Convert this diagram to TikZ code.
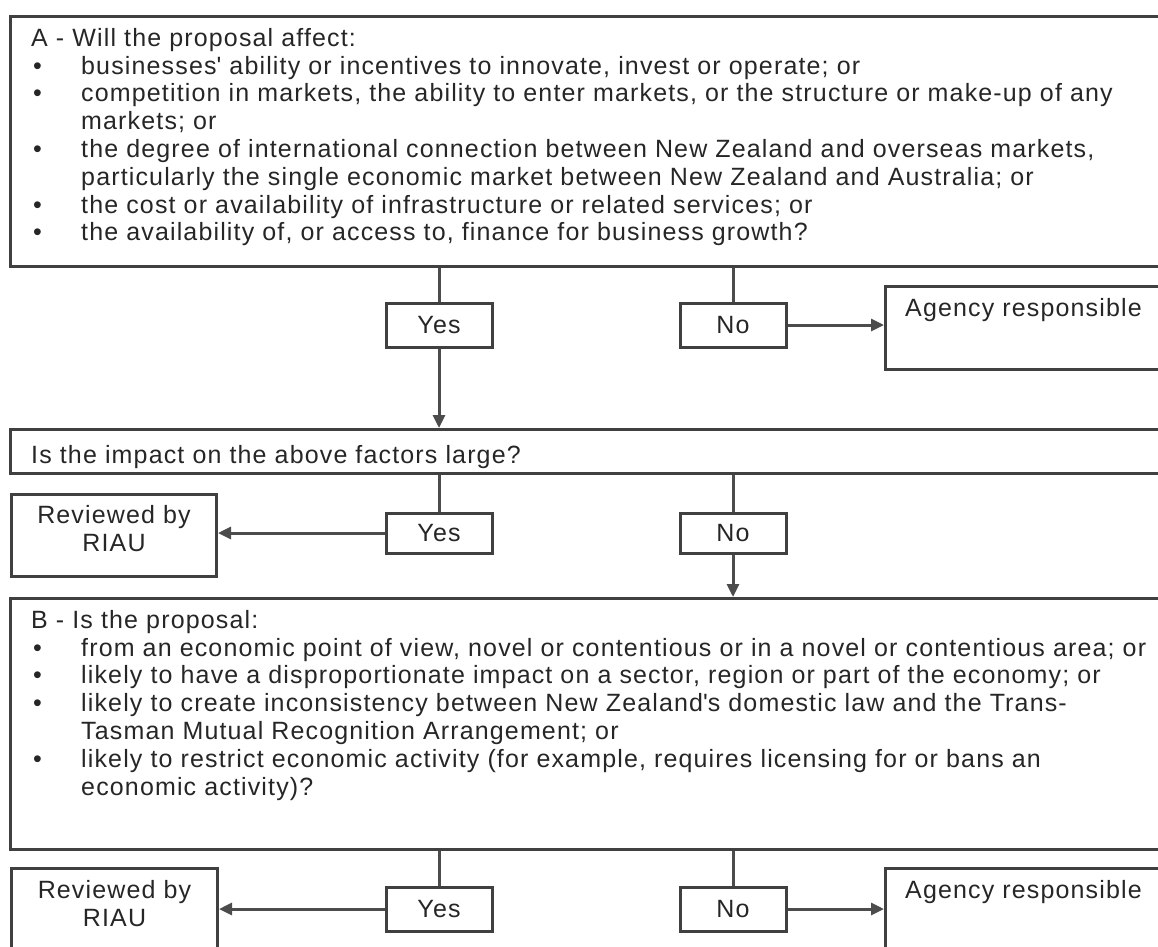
\documentclass[tikz,border=0pt]{standalone}
\usepackage{fontspec}
\setmainfont{Liberation Sans}[LetterSpace=4.6]
\usetikzlibrary{positioning, arrows.meta}

\newcommand\bul{\makebox[50pt][l]{\hspace{2pt}\textbullet}}
\newcommand\cont{\hspace*{50pt}}

\begin{document}
\begin{tikzpicture}[x=1pt, y=-1pt,
    every node/.style={font=\fontsize{25}{27.8}\selectfont, text=black!85},
    box/.style={draw=black!75, line width=3pt, inner sep=0pt},
    choice/.style={box, minimum width=106pt, minimum height=44pt},
    txt/.style={align=left, inner sep=0pt, anchor=north west},
    link/.style={draw=black!70, line width=3pt},
    arr/.style={link, -{Triangle[length=13pt, width=12pt]}}]
    \useasboundingbox (0,0) rectangle (1158,946);
    \clip (0,0) rectangle (1158,946);

    % question boxes
    \node[box, anchor=north west, minimum width=1190pt, minimum height=250pt] (boxA) at (9,15) {};
    \node[box, anchor=north west, minimum width=1190pt, minimum height=44pt] (impact) at (9,428) {};
    \node[box, anchor=north west, minimum width=1190pt, minimum height=251pt] (boxB) at (9,597) {};

    \node[txt] (txtA) at ([shift={(22,13)}]boxA.north west) {A - Will the proposal affect:\\
        \bul businesses\textquotesingle{} ability or incentives to innovate, invest or operate; or\\
        \bul competition in markets, the ability to enter markets, or the structure or make-up of any\\
        \cont markets; or\\
        \bul the degree of international connection between New Zealand and overseas markets,\\
        \cont particularly the single economic market between New Zealand and Australia; or\\
        \bul the cost or availability of infrastructure or related services; or\\
        \bul the availability of, or access to, finance for business growth?};
    \node[txt] (txtImpact) at ([shift={(22,17)}]impact.north west) {Is the impact on the above factors large?};
    \node[txt] (txtB) at ([shift={(22,13)}]boxB.north west) {B - Is the proposal:\\
        \bul from an economic point of view, novel or contentious or in a novel or contentious area; or\\
        \bul likely to have a disproportionate impact on a sector, region or part of the economy; or\\
        \bul likely to create inconsistency between New Zealand\textquotesingle{}s domestic law and the Trans-\\
        \cont Tasman Mutual Recognition Arrangement; or\\
        \bul likely to restrict economic activity (for example, requires licensing for or bans an\\
        \cont economic activity)?};

    % answers
    \node[choice] (yesA) at (439,325) {Yes};
    \node[choice] (noA) at (733,325) {No};
    \node[choice, minimum height=40pt] (yesI) at (439,533) {Yes};
    \node[choice, minimum height=40pt] (noI) at (733,533) {No};
    \node[choice] (yesB) at (439,909) {Yes};
    \node[choice] (noB) at (733,909) {No};

    % outcomes
    \node[box, anchor=north west, minimum width=300pt, minimum height=83pt] (agencyA) at (884,285) {};
    \node[box, anchor=north west, minimum width=205pt, minimum height=82pt] (riauI) at (10,493) {};
    \node[box, anchor=north west, minimum width=206pt, minimum height=100pt] (riauB) at (10,867) {};
    \node[box, anchor=north west, minimum width=300pt, minimum height=100pt] (agencyB) at (884,867) {};

    \node[txt] (txtAgencyA) at ([shift={(21,13)}]agencyA.north west) {Agency responsible};
    \node[txt, anchor=north, align=center] (txtRiauI) at ([shift={(0,12)}]riauI.north) {Reviewed by\\RIAU};
    \node[txt, anchor=north, align=center] (txtRiauB) at ([shift={(0,13)}]riauB.north) {Reviewed by\\RIAU};
    \node[txt] (txtAgencyB) at ([shift={(21,13)}]agencyB.north west) {Agency responsible};

    % connectors
    \draw[link] (boxA.south -| yesA) -- (yesA);
    \draw[arr] (yesA) -- (yesA |- impact.north);
    \draw[link] (boxA.south -| noA) -- (noA);
    \draw[arr] (noA) -- (noA -| agencyA.west);
    \draw[link] (impact.south -| yesI) -- (yesI);
    \draw[arr] (yesI) -- (yesI -| riauI.east);
    \draw[link] (impact.south -| noI) -- (noI);
    \draw[arr] (noI) -- (noI |- boxB.north);
    \draw[link] (boxB.south -| yesB) -- (yesB);
    \draw[arr] (yesB) -- (yesB -| riauB.east);
    \draw[link] (boxB.south -| noB) -- (noB);
    \draw[arr] (noB) -- (noB -| agencyB.west);
\end{tikzpicture}
\end{document}
